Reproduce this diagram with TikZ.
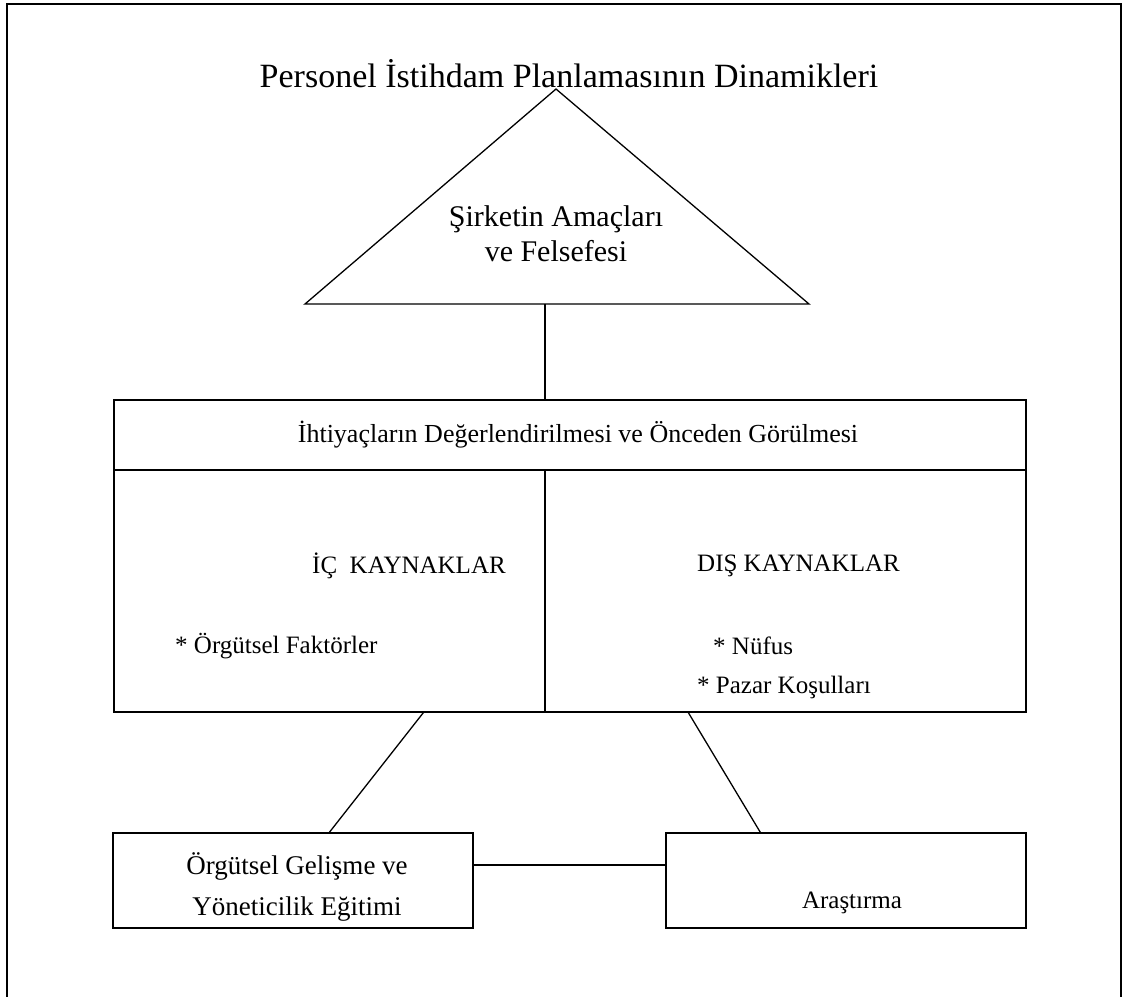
\documentclass[tikz,border=0pt]{standalone}
\usepackage{fontspec}
\setmainfont{Liberation Serif}
\begin{document}
\begin{tikzpicture}[x=1pt,y=-1pt,
  txt/.style={inner sep=0pt, font=\fontsize{25}{36}\selectfont},
  big/.style={inner sep=0pt, font=\fontsize{30}{35}\selectfont},
  ttl/.style={inner sep=0pt, font=\fontsize{34}{40}\selectfont},
  frame/.style={draw, line width=1.3pt, inner sep=0pt},
  link/.style={line width=1.3pt}]
\useasboundingbox (0,0) rectangle (1129,996);

% page frame, open at the bottom
\draw[line width=2.2pt] (7,997) -- (7,4) -- (1121,4) -- (1121,997);

% title
\node[ttl, anchor=base] (title) at (569,87) {Personel İstihdam Planlamasının Dinamikleri};

% triangle with the company goals
\coordinate (apex) at (556,89);
\coordinate (tl) at (305,304);
\coordinate (tr) at (809,304);
\draw[link, line join=miter] (tl) -- (apex) -- (tr) -- cycle;
\node[big, align=center] (goals) at (556,234) {Şirketin Amaçları\\ve Felsefesi};
\coordinate (tbase) at (545,304);

% needs assessment block
\node[frame, minimum width=912pt, minimum height=70pt] (head) at (570,435) {};
\node[inner sep=0pt, font=\fontsize{26}{30}\selectfont] (headt) at (578,435)
  {İhtiyaçların Değerlendirilmesi ve Önceden Görülmesi};
\node[frame, minimum width=431pt, minimum height=242pt] (inner) at (329.5,591) {};
\node[frame, minimum width=481pt, minimum height=242pt] (outer) at (785.5,591) {};

\node[txt, anchor=west] (ich) at (312,566) {İÇ\ \ KAYNAKLAR};
\node[txt, anchor=west] (ich1) at (175,646) {* Örgütsel Faktörler};
\node[txt, anchor=west] (dis) at (697,566) {DIŞ KAYNAKLAR};
\node[txt, anchor=west] (dis1) at (713,646) {* Nüfus};
\node[txt, anchor=west] (dis2) at (697,687) {* Pazar Koşulları};

% lower boxes
\node[frame, minimum width=360pt, minimum height=95pt] (org) at (293,880.5) {};
\node[frame, minimum width=360pt, minimum height=95pt] (res) at (846,880.5) {};
\node[inner sep=0pt, font=\fontsize{27}{41}\selectfont, align=center] (orgt) at (297,887)
  {Örgütsel Gelişme ve\\Yöneticilik Eğitimi};
\node[txt] (rest) at (852,903) {Araştırma};

% connectors
\draw[link] (tbase) -- (tbase |- head.north);
\draw[link] ([xshift=310pt]inner.south west) -- ([xshift=217pt]org.north west);
\draw[link] ([xshift=144pt]outer.south west) -- ([xshift=95pt]res.north west);
\draw[link] ([yshift=15.5pt]org.east) -- ([yshift=15.5pt]res.west);
\end{tikzpicture}
\end{document}
